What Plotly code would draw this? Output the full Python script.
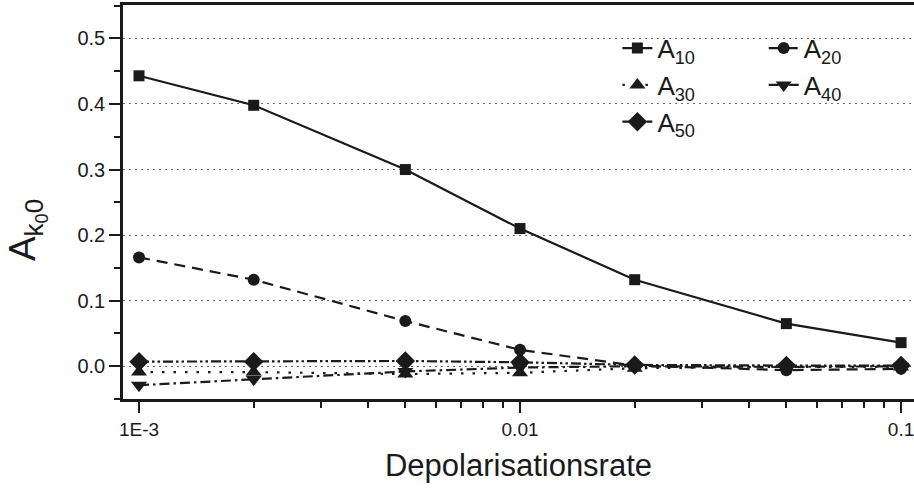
import plotly.graph_objects as go

rate = [0.001, 0.002, 0.005, 0.01, 0.02, 0.05, 0.1]
A10 = [0.443, 0.398, 0.300, 0.210, 0.132, 0.065, 0.036]
A20 = [0.166, 0.132, 0.069, 0.025, 0.001, -0.006, -0.004]
A30 = [-0.009, -0.009, -0.012, -0.010, -0.003, -0.001, -0.001]
A40 = [-0.029, -0.020, -0.008, -0.002, 0.000, -0.001, 0.000]
A50 = [0.007, 0.007, 0.008, 0.006, 0.002, 0.001, 0.001]

names = ["A<sub>10</sub>", "A<sub>20</sub>", "A<sub>30</sub>", "A<sub>40</sub>", "A<sub>50</sub>"]
series = [A10, A20, A30, A40, A50]
symbols = ["square", "circle", "triangle-up", "triangle-down", "diamond"]
msizes = [11, 12, 14, 14, 15]
dashes = ["solid", "11px,7px", "2.5px,9px", "10px,4px,2.5px,4px", "10px,3px,2.5px,3px,2.5px,3px"]
legends = ["legend", "legend2", "legend", "legend2", "legend"]

x_ticks = [0.001, 0.01, 0.1]
x_ticktext = ["1E-3", "0.01", "0.1"]
x_minor = [2e-3, 3e-3, 4e-3, 5e-3, 6e-3, 7e-3, 8e-3, 9e-3,
           2e-2, 3e-2, 4e-2, 5e-2, 6e-2, 7e-2, 8e-2, 9e-2]

ink = "#1a1a1a"
FONT = "Arial, Liberation Sans, sans-serif"

fig = go.Figure()
for nm, ys, sym, ms, ds, lg in zip(names, series, symbols, msizes, dashes, legends):
    fig.add_trace(go.Scatter(
        x=rate, y=ys, name=nm, mode="lines+markers", legend=lg,
        line=dict(color=ink, width=2.2, dash=ds),
        marker=dict(symbol=sym, size=ms, color=ink, line=dict(width=0)),
    ))

fig.update_layout(
    width=914, height=497,
    margin=dict(l=123, r=0, t=5, b=98),
    paper_bgcolor="white", plot_bgcolor="white",
    font=dict(family=FONT, color=ink),
    legend=dict(x=0.625, y=0.95, xanchor="left", yanchor="top",
                font=dict(size=26, family=FONT, color=ink),
                bgcolor="rgba(0,0,0,0)", tracegroupgap=0, itemwidth=30),
    legend2=dict(x=0.81, y=0.95, xanchor="left", yanchor="top",
                 font=dict(size=26, family=FONT, color=ink),
                 bgcolor="rgba(0,0,0,0)", tracegroupgap=0, itemwidth=30),
    xaxis=dict(
        type="log", range=[-3.042, -0.966],
        tickvals=x_ticks, ticktext=x_ticktext, ticklabeloverflow="allow",
        ticks="outside", ticklen=11, tickwidth=2, tickcolor=ink,
        minor=dict(tickvals=x_minor, ticks="outside", ticklen=6, tickwidth=2, tickcolor=ink),
        showline=True, linewidth=2.5, linecolor=ink, mirror=True,
        showgrid=False, zeroline=False,
        tickfont=dict(size=19, family=FONT, color=ink),
        title=dict(text="Depolarisationsrate", font=dict(size=31, family=FONT, color=ink), standoff=16),
    ),
    yaxis=dict(
        range=[-0.05, 0.551], tick0=0, dtick=0.1, tickformat=".1f",
        ticks="outside", ticklen=11, tickwidth=2, tickcolor=ink,
        minor=dict(dtick=0.05, tick0=0, ticks="outside", ticklen=6, tickwidth=2, tickcolor=ink, showgrid=False),
        showline=True, linewidth=2.5, linecolor=ink,
        showgrid=True, gridcolor="#707070", gridwidth=1, griddash="2px,4px",
        zeroline=False,
        tickfont=dict(size=20, family=FONT, color=ink),
    ),
    annotations=[dict(
        text="A<sub>k<sub>0</sub>0</sub>", textangle=-90,
        xref="paper", yref="paper", x=-0.122, y=0.43, xanchor="center", yanchor="middle",
        showarrow=False, font=dict(size=37, family=FONT, color=ink),
    )],
)

fig.write_html("out.html")
